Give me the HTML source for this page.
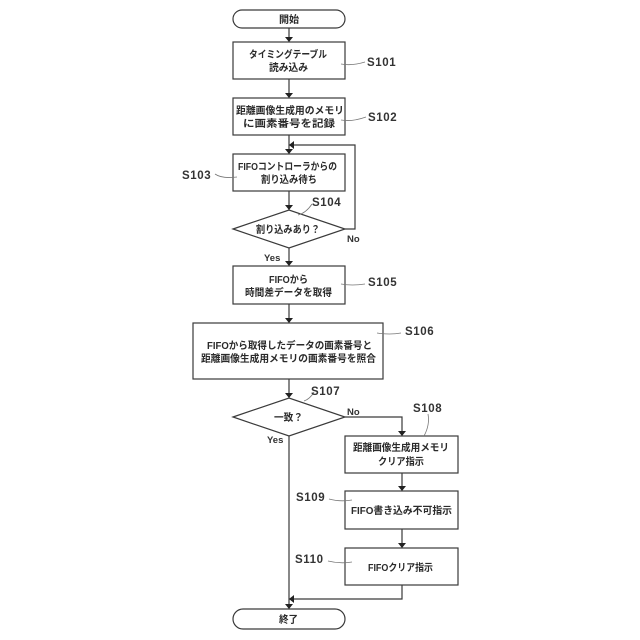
<!DOCTYPE html>
<html><head><meta charset="utf-8">
<style>
html,body{margin:0;padding:0;background:#fff}
svg{display:block}
text{font-family:"Liberation Sans","Noto Sans CJK JP",sans-serif;fill:#2a2a2a}
.j{font-size:10px;font-weight:700}
.s{font-size:11.5px;font-weight:700;letter-spacing:.6px;fill:#333}
.n{font-size:9.5px;font-weight:700;fill:#333}
.b{fill:#fff;stroke:#3a3a3a;stroke-width:1.2}
.l{fill:none;stroke:#3a3a3a;stroke-width:1.2}
.t{fill:none;stroke:#777;stroke-width:.8}
.a{fill:#222}
</style></head><body>
<svg width="640" height="640" viewBox="0 0 640 640" xmlns="http://www.w3.org/2000/svg">
<!-- connectors -->
<path class="l" d="M289 28V42M289 79V98M289 135V154M289 191V210M289 248V266M289 304V323M289 379V398M289 436V609"/>
<path class="l" d="M345 229H355V145H289"/>
<path class="l" d="M345 417H402V436M402 473V491M402 529V548M402 585V599H289"/>
<!-- arrowheads -->
<path class="a" d="M285 37L293 37L289 42ZM285 93L293 93L289 98ZM285 149L293 149L289 154ZM285 205L293 205L289 210ZM285 261L293 261L289 266ZM285 318L293 318L289 323ZM285 393L293 393L289 398ZM285 604L293 604L289 609ZM398 431L406 431L402 436ZM398 486L406 486L402 491ZM398 543L406 543L402 548Z"/>
<path class="a" d="M294 141V149L289 145ZM294 595V603L289 599Z"/>
<!-- shapes -->
<rect class="b" x="233" y="10" width="112" height="18" rx="9"/>
<rect class="b" x="233" y="42" width="112" height="37"/>
<rect class="b" x="233" y="98" width="112" height="37"/>
<rect class="b" x="233" y="154" width="112" height="37"/>
<path class="b" d="M233 229L289 210L345 229L289 248Z"/>
<rect class="b" x="233" y="266" width="112" height="38"/>
<rect class="b" x="193" y="323" width="190" height="56"/>
<path class="b" d="M233 417L289 398L345 417L289 436Z"/>
<rect class="b" x="345" y="436" width="113" height="37"/>
<rect class="b" x="345" y="491" width="113" height="38"/>
<rect class="b" x="345" y="548" width="113" height="37"/>
<rect class="b" x="233" y="609" width="112" height="20" rx="10"/>
<!-- leader lines -->
<path class="t" d="M341 64Q352 66 365 62"/>
<path class="t" d="M341 120Q352 122 366 117"/>
<path class="t" d="M215 174Q222 179 237 177"/>
<path class="t" d="M298 215Q306 213 312 204"/>
<path class="t" d="M341 284Q352 286 365 284"/>
<path class="t" d="M377 333Q390 335 401 333"/>
<path class="t" d="M304 401Q310 399 314 392"/>
<path class="t" d="M424 436Q430 425 428 414"/>
<path class="t" d="M329 499Q340 502 352 500"/>
<path class="t" d="M328 561Q340 564 352 562"/>
<!-- node labels -->
<text class="j" x="279" y="23" textLength="20" lengthAdjust="spacingAndGlyphs">開始</text>
<text class="j" x="249" y="58" textLength="78" lengthAdjust="spacingAndGlyphs">タイミングテーブル</text>
<text class="j" x="269" y="71" textLength="39" lengthAdjust="spacingAndGlyphs">読み込み</text>
<text class="j" x="236" y="114" textLength="108" lengthAdjust="spacingAndGlyphs">距離画像生成用のメモリ</text>
<text class="j" x="243" y="127" textLength="92" lengthAdjust="spacingAndGlyphs">に画素番号を記録</text>
<text class="j" x="238" y="170" textLength="99" lengthAdjust="spacingAndGlyphs">FIFOコントローラからの</text>
<text class="j" x="261" y="183" textLength="56" lengthAdjust="spacingAndGlyphs">割り込み待ち</text>
<text class="j" x="256" y="233" textLength="64" lengthAdjust="spacingAndGlyphs">割り込みあり？</text>
<text class="j" x="269" y="283" textLength="39" lengthAdjust="spacingAndGlyphs">FIFOから</text>
<text class="j" x="245" y="296" textLength="87" lengthAdjust="spacingAndGlyphs">時間差データを取得</text>
<text class="j" x="207" y="349" textLength="165" lengthAdjust="spacingAndGlyphs">FIFOから取得したデータの画素番号と</text>
<text class="j" x="201" y="362" textLength="175" lengthAdjust="spacingAndGlyphs">距離画像生成用メモリの画素番号を照合</text>
<text class="j" x="274" y="421" textLength="29" lengthAdjust="spacingAndGlyphs">一致？</text>
<text class="j" x="353" y="451" textLength="96" lengthAdjust="spacingAndGlyphs">距離画像生成用メモリ</text>
<text class="j" x="378" y="465" textLength="46" lengthAdjust="spacingAndGlyphs">クリア指示</text>
<text class="j" x="351" y="514" textLength="101" lengthAdjust="spacingAndGlyphs">FIFO書き込み不可指示</text>
<text class="j" x="368" y="571" textLength="65" lengthAdjust="spacingAndGlyphs">FIFOクリア指示</text>
<text class="j" x="279" y="623" textLength="19" lengthAdjust="spacingAndGlyphs">終了</text>
<!-- step labels -->
<text class="s" x="367" y="66">S101</text>
<text class="s" x="368" y="121">S102</text>
<text class="s" x="182" y="179">S103</text>
<text class="s" x="312" y="206">S104</text>
<text class="s" x="368" y="286">S105</text>
<text class="s" x="405" y="335">S106</text>
<text class="s" x="311" y="395">S107</text>
<text class="s" x="413" y="412">S108</text>
<text class="s" x="296" y="501">S109</text>
<text class="s" x="295" y="563">S110</text>
<!-- branch labels -->
<text class="n" x="347" y="242">No</text>
<text class="n" x="264" y="261">Yes</text>
<text class="n" x="347" y="415">No</text>
<text class="n" x="267" y="443">Yes</text>
</svg>
</body></html>
